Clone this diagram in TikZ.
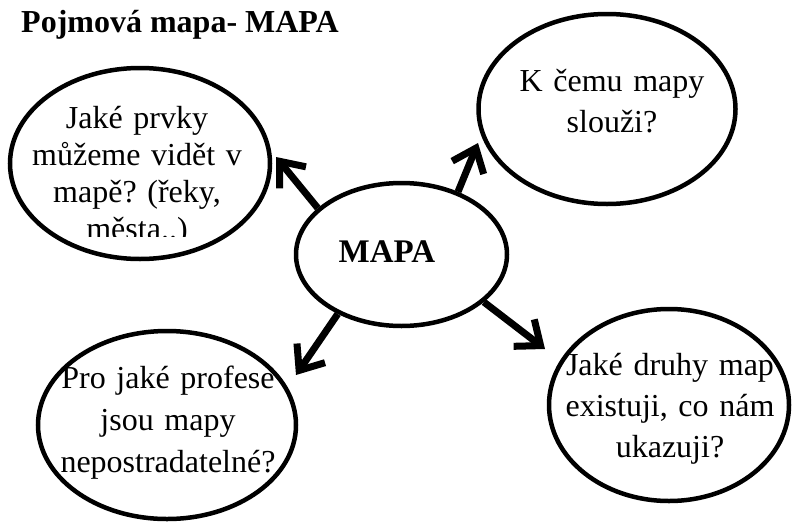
\documentclass[tikz,border=0pt]{standalone}
\usepackage{fontspec}
\setmainfont{Liberation Serif}
\usetikzlibrary{arrows.meta,shapes.geometric}
\frenchspacing
\begin{document}
\begin{tikzpicture}[x=1pt,y=-1pt,
  bubble/.style={draw,ellipse,line width=4.5pt,inner sep=0pt},
  txt/.style={text width=290pt,align=center,inner sep=0pt,anchor=base},
  arr/.style={line width=7pt,-{Straight Barb[length=21pt,width=34pt]}}]
\useasboundingbox (0,0) rectangle (792,522);
% title
\node[anchor=base west,inner sep=0pt,font=\bfseries\fontsize{32}{38}\selectfont] (title) at (21,32) {Pojmová mapa- MAPA};
% ellipses
\node[bubble,minimum width=260pt,minimum height=191pt] (tl) at (140,163.5) {};
\node[bubble,minimum width=257pt,minimum height=190pt] (tr) at (607,109) {};
\node[bubble,minimum width=258pt,minimum height=188pt] (bl) at (167,425) {};
\node[bubble,minimum width=240pt,minimum height=192pt] (br) at (669,405) {};
\node[bubble,minimum width=211pt,minimum height=143pt] (mapa) at (401.5,254.5) {};
% texts
\begin{scope}
\clip (0,0) rectangle (300,236);
\node[txt,font=\fontsize{32}{37}\selectfont] (tltext) at (137,128) {Jaké prvky\\ můžeme vidět v\\ mapě? (řeky,\\ města..)};
\end{scope}
\node[txt,font=\fontsize{32}{41}\selectfont] (trtext) at (612,91) {K čemu mapy\\ slouži?};
\node[txt,font=\fontsize{32}{42}\selectfont] (bltext) at (168,388) {Pro jaké profese\\ jsou mapy\\ nepostradatelné?};
\node[txt,font=\fontsize{32}{41}\selectfont] (brtext) at (670,375) {Jaké druhy map\\ existuji, co nám\\ ukazuji?};
\node[anchor=base,inner sep=0pt,font=\bfseries\fontsize{33}{37}\selectfont] (mapatext) at (387,262) {MAPA};
% arrow tips
\coordinate (tTL) at (276,157);
\coordinate (tTR) at (478,143);
\coordinate (tBL) at (296,375);
\coordinate (tBR) at (545,349);
\draw[arr] (mapa.151) -- (tTL);
\draw[arr] (mapa.48) -- (tTR);
\draw[arr] (mapa.223) -- (tBL);
\draw[arr] (mapa.330) -- (tBR);
\end{tikzpicture}
\end{document}
